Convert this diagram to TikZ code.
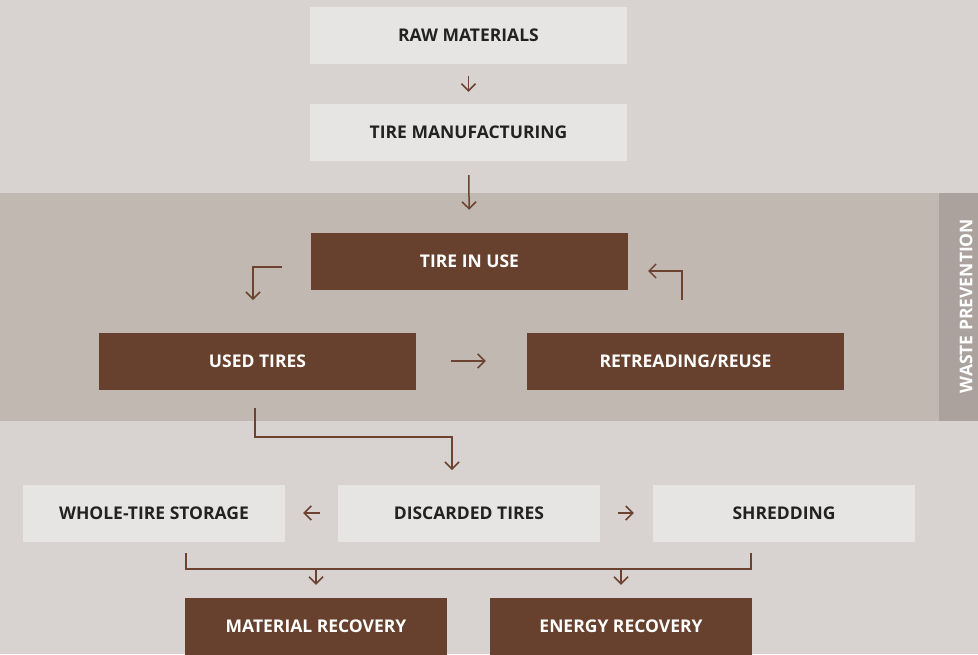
\documentclass[tikz,border=0pt]{standalone}
\usepackage{fontspec}
\setmainfont{Open Sans}
\usepackage{xcolor}
\usetikzlibrary{arrows.meta,calc}

\definecolor{bgcol}{HTML}{D8D3D0}
\definecolor{bandcol}{HTML}{C1B8B2}
\definecolor{tabcol}{HTML}{ABA29D}
\definecolor{boxlight}{HTML}{E6E5E4}
\definecolor{boxdark}{HTML}{67412E}
\definecolor{arrcol}{HTML}{6B4330}
\definecolor{txtdark}{HTML}{222222}

\begin{document}
\begin{tikzpicture}[x=1pt,y=-1pt,
  lbl/.style={font=\fontsize{17.5}{21}\selectfont\bfseries},
  lightbox/.style={lbl,fill=boxlight,text=txtdark,inner sep=0pt,minimum height=57pt},
  darkbox/.style={lbl,fill=boxdark,text=white,inner sep=0pt,minimum height=57pt},
  wide/.style={minimum width=317pt},
  narrow/.style={minimum width=262pt},
  arr/.style={draw=arrcol,line width=1.5pt,-{Straight Barb[length=7pt,width=14pt,line width=1.5pt]}},
  link/.style={draw=arrcol,line width=1.5pt}]
  \useasboundingbox (0,0) rectangle (978,654);
  \fill[bgcol] (0,0) rectangle (978,654);
  \fill[bandcol] (0,193) rectangle (978,421);
  \fill[tabcol] (939,193) rectangle (978,421);
  \node[lbl,text=white,rotate=90] (waste) at (966,306) {WASTE PREVENTION};
  % boxes
  \node[lightbox,wide] (raw) at (468.5,35.5) {RAW MATERIALS};
  \node[lightbox,wide] (manu) at (468.5,132.5) {TIRE MANUFACTURING};
  \node[darkbox,wide] (inuse) at (469.5,261.5) {TIRE IN USE};
  \node[darkbox,wide] (used) at (257.5,361) {USED TIRES};
  \node[darkbox,wide] (retread) at (685.5,361) {RETREADING/REUSE};
  \node[lightbox,narrow] (storage) at (154,513) {WHOLE-TIRE STORAGE};
  \node[lightbox,narrow] (discard) at (469,513) {DISCARDED TIRES};
  \node[lightbox,narrow] (shred) at (784,513) {SHREDDING};
  \node[darkbox,narrow] (matrec) at (316,626.5) {MATERIAL RECOVERY};
  \node[darkbox,narrow] (enrec) at (621,626.5) {ENERGY RECOVERY};
  % bend points
  \coordinate (useL) at (282,267);
  \coordinate (useLend) at (253,300);
  \coordinate (retR) at (682,300);
  \coordinate (retRend) at (648,271);
  \coordinate (usedD) at (255,408);
  \coordinate (discU) at (452,470);
  \coordinate (brL) at (186,553);
  \coordinate (brR) at (751,553);
  \coordinate (brY) at (0,569);
  % connectors
  \draw[arr,shorten <=12pt,shorten >=12pt] (raw) -- (manu);
  \draw[arr,shorten <=14pt,shorten >=23pt] (manu) -- (inuse);
  \draw[arr] (useL) -| (useLend);
  \draw[arr] (retR) |- (retRend);
  \draw[arr,shorten <=35pt,shorten >=41pt] (used) -- (retread);
  \draw[arr] (usedD) |- ($(discU)+(0,-33)$) -- (discU);
  \draw[arr,shorten <=18pt,shorten >=18pt] (discard) -- (storage);
  \draw[arr,shorten <=18pt,shorten >=19pt] (discard) -- (shred);
  \draw[link] (brL) -- (brL |- brY) -- (brR |- brY) -- (brR);
  \draw[arr,shorten >=13pt] (matrec.north |- brY) -- (matrec);
  \draw[arr,shorten >=13pt] (enrec.north |- brY) -- (enrec);
\end{tikzpicture}
\end{document}
